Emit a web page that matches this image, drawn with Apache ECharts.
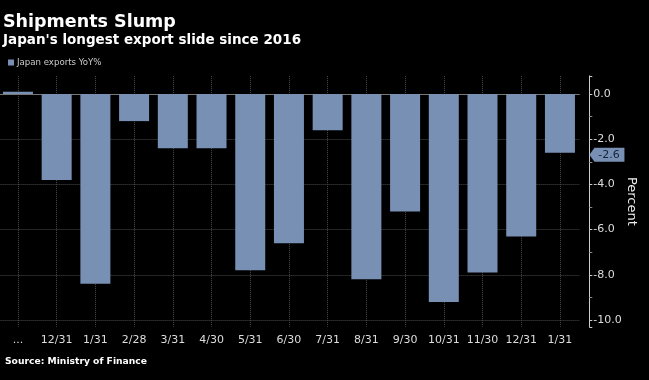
<!DOCTYPE html>
<html><head><meta charset="utf-8">
<script src="https://cdn.jsdelivr.net/npm/echarts@6/dist/echarts.min.js"></script>
<style>html,body{margin:0;padding:0;background:#000;}#c{width:649px;height:380px;}</style>
</head><body><div id="c"></div>
<script>
var categories = ['...', '12/31', '1/31', '2/28', '3/31', '4/30', '5/31', '6/30', '7/31', '8/31', '9/30', '10/31', '11/30', '12/31', '1/31'];
var exportsYoY = [0.1, -3.8, -8.4, -1.2, -2.4, -2.4, -7.8, -6.6, -1.6, -8.2, -5.2, -9.2, -7.9, -6.3, -2.6];
var seriesName = 'Japan exports YoY%';
var lastIdx = exportsYoY.length - 1;

var chart = echarts.init(document.getElementById('c'));
var font = 'DejaVu Sans';
chart.setOption({
  backgroundColor: '#000',
  animation: false,
  title: [
    {text: 'Shipments Slump', left: 3, top: 13, padding: 0, textStyle: {color: '#fff', fontFamily: font, fontWeight: 'bold', fontSize: 17.5}},
    {text: "Japan's longest export slide since 2016", left: 3, top: 33, padding: 0, textStyle: {color: '#fff', fontFamily: font, fontWeight: 'bold', fontSize: 13.5}},
    {text: 'Source: Ministry of Finance', left: 5, top: 357, padding: 0, textStyle: {color: '#fff', fontFamily: font, fontWeight: 'bold', fontSize: 9.2}}
  ],
  legend: {
    left: 8, top: 58, padding: 0, itemWidth: 6, itemHeight: 6, itemGap: 4,
    icon: 'rect',
    textStyle: {color: '#ccc', fontFamily: font, fontSize: 8.6, padding: [0,0,0,-2]},
    data: [seriesName]
  },
  grid: {left: -1.4, width: 580.7, top: 75.9, height: 250.9, containLabel: false, outerBoundsMode: 'none'},
  xAxis: {
    type: 'category', data: categories,
    axisLine: {show: true, lineStyle: {color: '#777', width: 1}},
    axisTick: {show: false},
    axisLabel: {color: '#ddd', fontFamily: font, fontSize: 11, margin: 8, interval: 0},
    splitLine: {show: true, alignWithLabel: true, lineStyle: {color: '#4a4a4a', type: 'dotted', width: 1}}
  },
  yAxis: {
    type: 'value', position: 'right', offset: 10,
    min: -10.3, max: 0.8, splitNumber: 5,
    name: 'Percent', nameLocation: 'middle', nameRotate: -90, nameGap: 36, nameMoveOverlap: false,
    nameTextStyle: {color: '#eee', fontFamily: font, fontSize: 13, padding: [0,0,0,0]},
    axisLine: {show: true, lineStyle: {color: '#ccc', width: 1}},
    axisTick: {show: true, length: 3, lineStyle: {color: '#ccc'}},
    minorTick: {show: true, splitNumber: 2, length: 3, lineStyle: {color: '#888'}},
    axisLabel: {color: '#ddd', fontFamily: font, fontSize: 11, margin: 4, showMinLabel: false, showMaxLabel: false,
      formatter: function (v) { return v.toFixed(1); }},
    splitLine: {show: true, showMinLine: false, showMaxLine: false, lineStyle: {color: '#4a4a4a', type: 'dotted', width: 1}}
  },
  series: [{
    name: seriesName, type: 'bar', data: exportsYoY, barWidth: 30,
    itemStyle: {color: '#7890b4'},
    markPoint: {
      symbol: 'path://M0,7 L5,0 L35,0 L35,14 L5,14 Z',
      symbolSize: [35, 14], symbolKeepAspect: false,
      symbolOffset: [47, 2],
      itemStyle: {color: '#7890b4'},
      label: {show: true, color: '#14233d', fontFamily: font, fontSize: 11, offset: [2, 0],
        formatter: function (p) { return p.value.toFixed(1); }},
      data: [{coord: [lastIdx, exportsYoY[lastIdx]], value: exportsYoY[lastIdx]}]
    }
  }]
});
</script></body></html>
